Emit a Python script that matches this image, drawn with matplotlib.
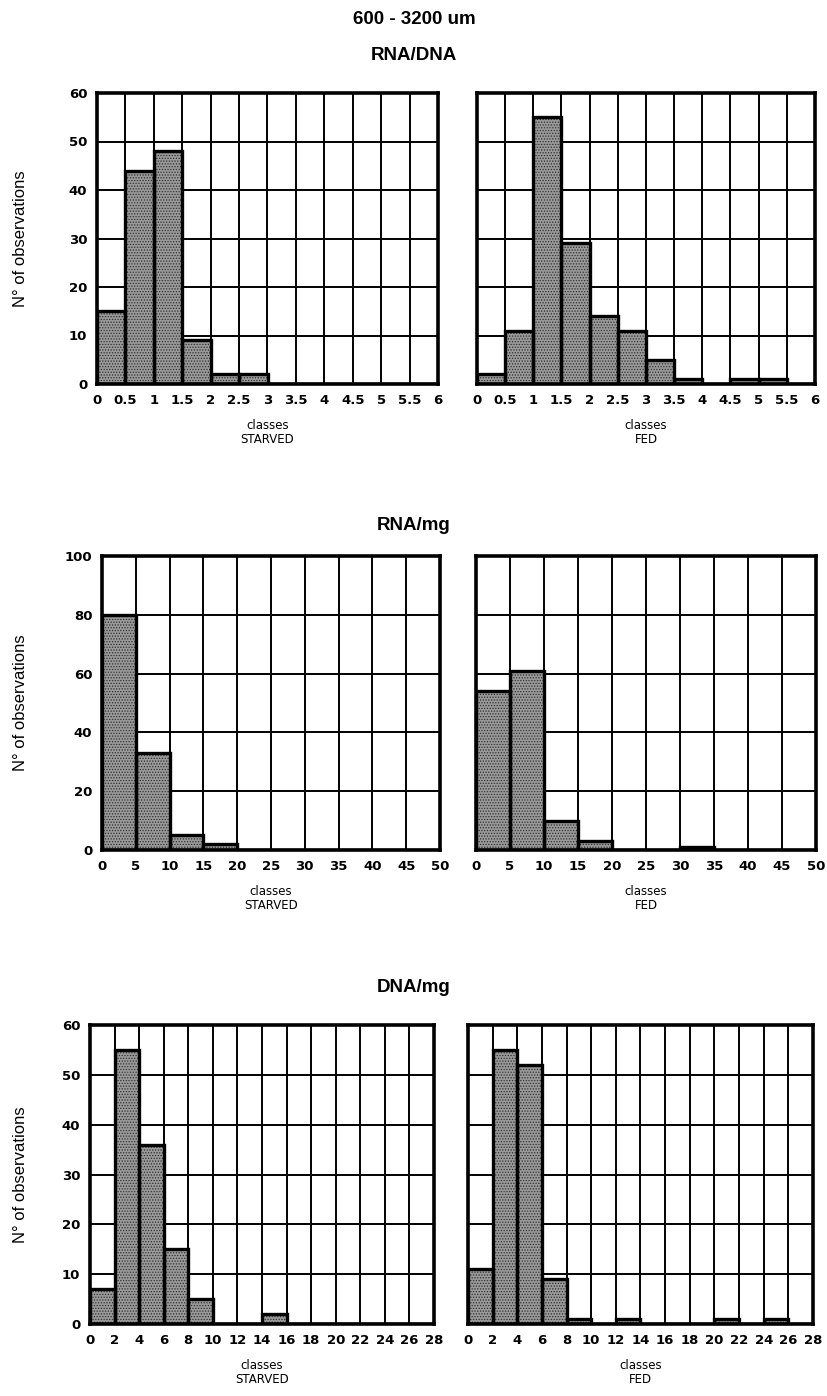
import numpy
import matplotlib
matplotlib.use("Agg")
import matplotlib.pyplot as plt

plt.rcParams['hatch.linewidth'] = 0.6

# === data (counts per class)
rna_dna_edges = numpy.arange(0, 6.01, 0.5)
rna_dna_starved = [15, 44, 48, 9, 2, 2, 0, 0, 0, 0, 0, 0]
rna_dna_fed = [2, 11, 55, 29, 14, 11, 5, 1, 0, 1, 1, 0]
rna_dna_ticklabels = ["0", "0.5", "1", "1.5", "2", "2.5", "3", "3.5", "4", "4.5", "5", "5.5", "6"]

rna_mg_edges = numpy.arange(0, 51, 5)
rna_mg_starved = [80, 33, 5, 2, 0, 0, 0, 0, 0, 0]
rna_mg_fed = [54, 61, 10, 3, 0, 0, 1, 0, 0, 0]

dna_mg_edges = numpy.arange(0, 29, 2)
dna_mg_starved = [7, 55, 36, 15, 5, 0, 0, 2, 0, 0, 0, 0, 0, 0]
dna_mg_fed = [11, 55, 52, 9, 1, 0, 1, 0, 0, 0, 1, 0, 1, 0]

W, H = 828, 1396
fig = plt.figure(figsize=(W/100, H/100), dpi=100)

def ax_at(x0, y0, x1, y1):
    # pixel box -> figure fraction
    return fig.add_axes([x0/W, 1-y1/H, (x1-x0)/W, (y1-y0)/H])

def panel(ax, edges, counts, ymax, ystep, ticklabels, group):
    w = edges[1]-edges[0]
    ax.set_xlim(edges[0], edges[-1])
    ax.set_ylim(0, ymax)
    ax.set_xticks(edges)
    ax.set_xticklabels(ticklabels if ticklabels else [("%g" % e) for e in edges])
    ax.set_yticks(numpy.arange(0, ymax+1, ystep))
    ax.grid(True, color='black', lw=1.4)
    ax.set_axisbelow(True)
    ax.bar(edges[:-1], counts, width=w, align='edge', color='#9a9a9a',
           hatch='......', edgecolor='#2e2e2e', lw=0, zorder=2)
    ax.bar(edges[:-1], counts, width=w, align='edge', facecolor='none',
           edgecolor='black', lw=2.4, zorder=3)
    for s in ax.spines.values():
        s.set_linewidth(2.6)
    ax.tick_params(length=0, pad=7, labelsize=9.5)
    for t in ax.get_xticklabels() + ax.get_yticklabels():
        t.set_fontweight('bold')
    ax.set_xlabel("classes\n" + group, fontsize=8.5, linespacing=1.05, labelpad=9)

rows = [
    (rna_dna_edges, rna_dna_starved, rna_dna_fed, 60, 10, rna_dna_ticklabels,
     (97, 93, 438, 384), (477, 93, 815, 384)),
    (rna_mg_edges, rna_mg_starved, rna_mg_fed, 100, 20, None,
     (102, 556, 440, 850), (476, 556, 816, 850)),
    (dna_mg_edges, dna_mg_starved, dna_mg_fed, 60, 10, None,
     (90, 1025, 434, 1324), (468, 1025, 813, 1324)),
]

for edges, st, fd, ymax, ystep, tl, lb, rb in rows:
    a1 = ax_at(*lb)
    panel(a1, edges, st, ymax, ystep, tl, "STARVED")
    a2 = ax_at(*rb)
    panel(a2, edges, fd, ymax, ystep, tl, "FED")
    a2.set_yticklabels([])
    yc = (lb[1]+lb[3])/2
    fig.text(21/W, 1-yc/H, "N° of observations", rotation=90, ha='center', va='center',
             fontsize=12, family=['Liberation Sans Narrow', 'Liberation Sans', 'DejaVu Sans'])

title_font = dict(fontsize=13.5, fontweight='bold', ha='center', va='center',
                  family=['Liberation Sans Narrow', 'Liberation Sans', 'DejaVu Sans'])
fig.text(0.5, 1-20/H, "600 - 3200 um", **title_font)
fig.text(0.5, 1-55/H, "RNA/DNA", **title_font)
fig.text(0.5, 1-526/H, "RNA/mg", **title_font)
fig.text(0.5, 1-988/H, "DNA/mg", **title_font)

fig.savefig("out.png", dpi=100)
